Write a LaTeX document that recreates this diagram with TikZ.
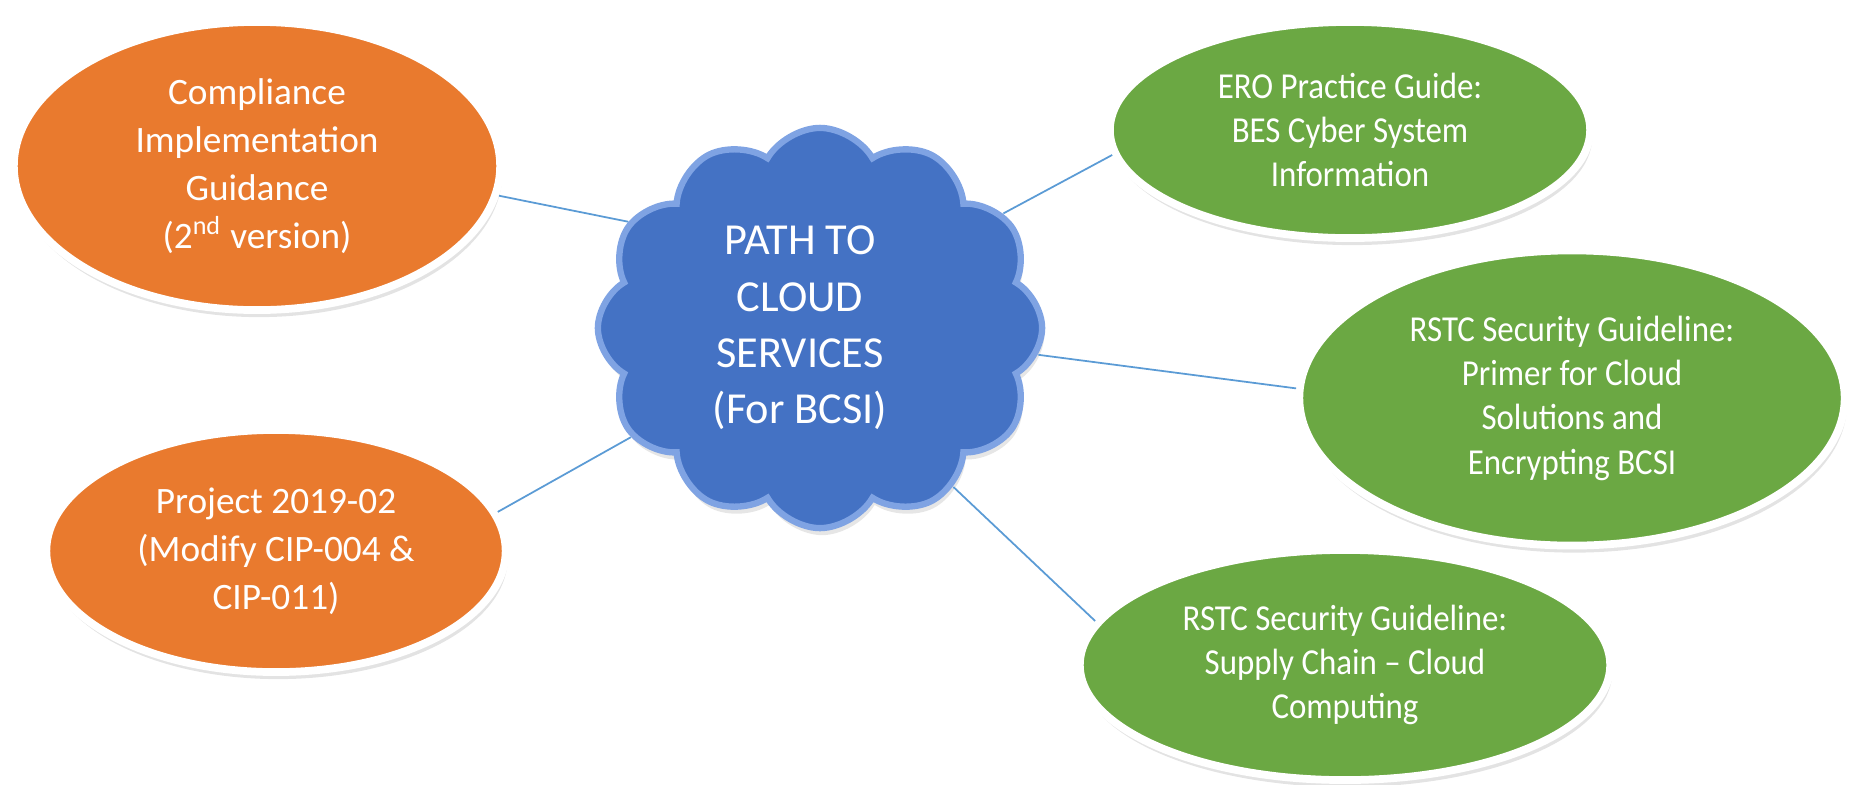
\documentclass[tikz,border=0pt]{standalone}
\usepackage{fontspec}
\setmainfont{Carlito}
\newfontfamily\narrowfont[FakeStretch=0.9]{Carlito}
\usetikzlibrary{shapes,shadows,positioning}

\definecolor{cloudblue}{HTML}{4472C4}
\definecolor{cloudedge}{HTML}{7FA3E3}
\definecolor{comporange}{HTML}{E97A2E}
\definecolor{guidegreen}{HTML}{6BA843}
\definecolor{linkblue}{HTML}{5B9BD5}

\tikzset{
  bubble/.style={ellipse, draw=white, line width=2.2pt, text=white, align=center, inner sep=0pt,
    drop shadow={opacity=0.22, shadow xshift=0.6pt, shadow yshift=-2pt}},
  orangebub/.style={bubble, fill=comporange, font=\fontsize{10.6}{13.7}\selectfont},
  greenbub/.style={bubble, fill=guidegreen, font=\narrowfont\fontsize{10.4}{12.6}\selectfont},
  link/.style={draw=linkblue, line width=0.5pt}
}

\begin{document}
\begin{tikzpicture}[x=0.01cm, y=-0.01cm]
  \useasboundingbox (0,0) rectangle (1854,784);

  % centre cloud
  \node[cloud, cloud puffs=12, cloud puff arc=120, cloud ignores aspect,
        fill=cloudblue, draw=cloudedge, line width=1.8pt, text=white,
        minimum width=4.44cm, minimum height=4.0cm,
        font=\fontsize{12.6}{16}\selectfont,
        drop shadow={opacity=0.2, shadow xshift=0.6pt, shadow yshift=-2pt}]
    (cloud) at (820,328) {\begin{tabular}{@{}c@{}}PATH TO\\CLOUD\\SERVICES\\(For BCSI)\end{tabular}\hspace*{0.4cm}};

  % left: orange bubbles
  \node[orangebub, minimum width=4.86cm, minimum height=2.88cm] (compliance) at (257,166)
    {Compliance\\Implementation\\Guidance\\(2\textsuperscript{nd} version)};
  \node[orangebub, minimum width=4.59cm, minimum height=2.42cm] (project) at (276,551)
    {Project 2019-02\\(Modify CIP-004 \&\\CIP-011)};

  % right: green bubbles
  \node[greenbub, minimum width=4.8cm, minimum height=2.16cm] (ero) at (1350,130)
    {ERO Practice Guide:\\BES Cyber System\\Information};
  \node[greenbub, minimum width=5.45cm, minimum height=2.95cm] (primer) at (1572,398)
    {RSTC Security Guideline:\\Primer for Cloud\\Solutions and\\Encrypting BCSI};
  \node[greenbub, minimum width=5.3cm, minimum height=2.3cm] (supply) at (1345,665)
    {RSTC Security Guideline:\\Supply Chain \textendash{} Cloud\\Computing};

  % links
  \draw[link] (cloud.151) -- (compliance.-7);
  \draw[link] (cloud.210) -- (project.10);
  \draw[link] (cloud.32) -- (ero.186);
  \draw[link] (cloud.-7) -- (primer.178);
  \draw[link] (cloud.-50) -- (supply.170);
\end{tikzpicture}
\end{document}
